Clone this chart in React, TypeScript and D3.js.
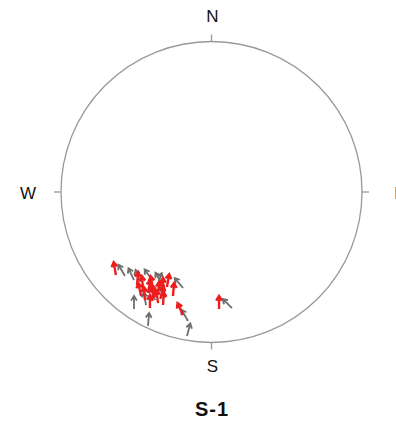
import React from "react";
import * as d3 from "d3";

// Arrow tails in unit stereonet coords (east, north) and arrow azimuth (deg from N, clockwise)
const grayEast = [-0.575, -0.515, -0.475, -0.395, -0.329, -0.189, -0.515, -0.422, -0.163, -0.156, 0.136, -0.375, -0.435, -0.309, -0.36];
const grayNorth = [-0.558, -0.585, -0.598, -0.585, -0.611, -0.638, -0.777, -0.89, -0.957, -0.857, -0.771, -0.718, -0.751, -0.704, -0.62];
const grayAz = [-30, -25, -20, -35, -30, -40, 0, 5, 15, -30, -45, -20, -10, -30, 20];

const redEast = [-0.635, -0.495, -0.455, -0.422, -0.389, -0.355, -0.322, -0.442, -0.395, -0.355, -0.322, -0.409, -0.468, -0.296, -0.256, -0.189, 0.05, -0.375, -0.34];
const redNorth = [-0.551, -0.618, -0.645, -0.671, -0.645, -0.684, -0.658, -0.718, -0.724, -0.738, -0.751, -0.771, -0.691, -0.631, -0.691, -0.817, -0.777, -0.7, -0.71];
const redAz = [-10, 5, -5, 10, -10, 5, 0, -5, 8, -8, 3, 0, -12, 10, 5, -25, 0, -15, 15];

const dirLabels = ["N", "E", "S", "W"];
const title = "S-1";

const W = 396;
const H = 423;
const cx = 211.5;
const cy = 192;
const R = 150.5;
const FONT = "'Liberation Sans', Arial, sans-serif";

export default function App() {
  const x = d3.scaleLinear().domain([-1, 1]).range([cx - R, cx + R]);
  const y = d3.scaleLinear().domain([-1, 1]).range([cy + R, cy - R]);
  const len = 13;
  const head = 5.5;

  const arrow = (e: number, n: number, az: number, color: string, sw: number, key: string) => {
    const x0 = x(e);
    const y0 = y(n);
    const a = (az * Math.PI) / 180;
    const x1 = x0 + len * Math.sin(a);
    const y1 = y0 - len * Math.cos(a);
    const back = a + Math.PI;
    const h1 = back - (32 * Math.PI) / 180;
    const h2 = back + (32 * Math.PI) / 180;
    const p = d3.path();
    p.moveTo(x0, y0);
    p.lineTo(x1, y1);
    p.moveTo(x1 + head * Math.sin(h1), y1 - head * Math.cos(h1));
    p.lineTo(x1, y1);
    p.lineTo(x1 + head * Math.sin(h2), y1 - head * Math.cos(h2));
    return (
      <path key={key} d={p.toString()} fill="none" stroke={color} strokeWidth={sw} strokeLinecap="butt" strokeLinejoin="miter" />
    );
  };

  const labelPos = [
    { t: dirLabels[0], x: cx + 1, y: 16 },
    { t: dirLabels[1], x: cx + R + 38, y: cy + 1 },
    { t: dirLabels[2], x: cx + 1, y: cy + R + 24 },
    { t: dirLabels[3], x: cx - R - 33, y: cy + 1 },
  ];

  const tickLen = 7;
  return (
    <svg width={W} height={H} style={{ position: "absolute", left: 0, top: 0, background: "#fff" }}>
      <circle cx={cx} cy={cy} r={R} fill="none" stroke="#999" strokeWidth={1.3} />
      <line x1={cx} x2={cx} y1={cy - R} y2={cy - R - tickLen} stroke="#999" strokeWidth={1.3} />
      <line x1={cx} x2={cx} y1={cy + R} y2={cy + R + tickLen} stroke="#999" strokeWidth={1.3} />
      <line x1={cx - R} x2={cx - R - tickLen} y1={cy} y2={cy} stroke="#999" strokeWidth={1.3} />
      <line x1={cx + R} x2={cx + R + tickLen} y1={cy} y2={cy} stroke="#999" strokeWidth={1.3} />
      {labelPos.map((l) => (
        <text key={l.t} x={l.x} y={l.y} textAnchor="middle" dominantBaseline="central" fontFamily={FONT} fontSize={17} fill="#111">
          {l.t}
        </text>
      ))}
      {grayEast.map((e, i) => arrow(e, grayNorth[i], grayAz[i], "#6e6e6e", 1.8, "g" + i))}
      {redEast.map((e, i) => arrow(e, redNorth[i], redAz[i], "#ee1c1c", 2.4, "r" + i))}
      <text x={cx + 0.5} y={409} textAnchor="middle" dominantBaseline="central" fontFamily={FONT} fontWeight="bold" fontSize={20} letterSpacing={1} fill="#111">
        {title}
      </text>
    </svg>
  );
}
